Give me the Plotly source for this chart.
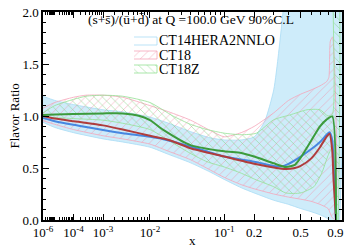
import plotly.graph_objects as go

# ---------------- data ----------------
# CT14HERA2NNLO
ct14_x = [1e-6, 1e-5, 1e-4, 2.4e-4, 1e-3, 3e-3, 1e-2, 1.65e-2, 4e-2, 0.1, 0.2, 0.3, 0.35, 0.4, 0.5, 0.6, 0.7, 0.78, 0.82, 0.856, 0.88, 0.91]
ct14_c = [0.98, 0.95, 0.915, 0.90, 0.865, 0.835, 0.80, 0.777, 0.707, 0.61, 0.56, 0.52, 0.515, 0.54, 0.61, 0.68, 0.75, 0.82, 0.845, 0.77, 0.45, 0.0]
ct14_up_x = [1e-6, 1e-5, 1e-4, 1e-3, 3e-3, 1e-2, 2e-2, 4e-2, 7e-2, 0.1, 0.15, 0.2, 0.25, 0.3, 0.33, 0.36, 0.4, 0.6, 0.92]
ct14_up = [1.19, 1.15, 1.11, 1.06, 1.04, 0.99, 0.93, 0.85, 0.79, 0.77, 0.77, 0.80, 0.95, 1.25, 1.6, 2.0, 2.5, 3.0, 3.0]
ct14_lo_x = [1e-6, 1e-5, 1e-4, 1e-3, 3e-3, 1e-2, 2e-2, 4e-2, 7e-2, 0.1, 0.15, 0.2, 0.3, 0.4, 0.5, 0.6, 0.7, 0.8, 0.85, 0.92]
ct14_lo = [0.94, 0.89, 0.84, 0.78, 0.75, 0.70, 0.63, 0.55, 0.46, 0.39, 0.31, 0.26, 0.19, 0.15, 0.11, 0.08, 0.05, 0.01, -0.1, -0.5]

# CT18
ct18_x = [1e-6, 1e-5, 1e-4, 2.4e-4, 1e-3, 3e-3, 1e-2, 2e-2, 4e-2, 0.1, 0.2, 0.3, 0.38, 0.45, 0.5, 0.6, 0.7, 0.78, 0.82, 0.856, 0.875, 0.91]
ct18_c = [1.0, 0.975, 0.95, 0.938, 0.91, 0.87, 0.81, 0.77, 0.69, 0.61, 0.54, 0.505, 0.49, 0.50, 0.52, 0.59, 0.70, 0.80, 0.83, 0.67, 0.38, 0.0]
ct18_up_x = [1e-6, 1e-5, 1e-4, 3e-4, 1e-3, 3e-3, 1e-2, 2e-2, 4e-2, 7e-2, 0.1, 0.15, 0.2, 0.3, 0.4, 0.5, 0.6, 0.7, 0.78, 0.81, 0.83, 0.86]
ct18_up = [1.075, 1.13, 1.18, 1.20, 1.20, 1.18, 1.10, 1.04, 0.96, 0.86, 0.80, 0.84, 0.90, 1.03, 1.15, 1.21, 1.25, 1.29, 1.33, 1.37, 1.72, 1.76]
ct18_lo_x = [1e-6, 1e-5, 1e-4, 1e-3, 3e-3, 1e-2, 2e-2, 4e-2, 7e-2, 0.1, 0.15, 0.2, 0.3, 0.4, 0.5, 0.6, 0.7, 0.8, 0.85, 0.9]
ct18_lo = [0.955, 0.92, 0.87, 0.81, 0.78, 0.73, 0.66, 0.58, 0.48, 0.41, 0.34, 0.30, 0.25, 0.22, 0.20, 0.18, 0.15, 0.11, 0.03, 0.0]

# CT18Z
ct18z_x = [1e-6, 1e-5, 1e-4, 1e-3, 3e-3, 6.6e-3, 1e-2, 1.65e-2, 4e-2, 0.1, 0.15, 0.2, 0.3, 0.38, 0.45, 0.5, 0.6, 0.7, 0.78, 0.856, 0.91]
ct18z_c = [1.01, 1.015, 1.02, 1.025, 1.025, 1.0, 0.96, 0.867, 0.72, 0.66, 0.645, 0.61, 0.545, 0.51, 0.53, 0.60, 0.76, 0.90, 0.965, 0.996, 0.0]
ct18z_up_x = [1e-6, 1e-5, 1e-4, 3e-4, 1e-3, 3e-3, 1e-2, 2.3e-2, 4e-2, 6.4e-2, 0.1, 0.15, 0.21, 0.3, 0.41, 0.56, 0.7, 0.8, 0.86, 0.885, 0.93]
ct18z_up = [1.03, 1.10, 1.16, 1.19, 1.20, 1.19, 1.13, 1.0, 0.92, 0.87, 0.835, 0.82, 0.835, 0.964, 1.01, 1.06, 1.06, 1.0, 1.02, 2.5, 2.5]
ct18z_lo_x = [1e-6, 1e-5, 1e-4, 1e-3, 3e-3, 1e-2, 2.3e-2, 4e-2, 6.4e-2, 0.1, 0.15, 0.21, 0.3, 0.38, 0.5, 0.63, 0.72, 0.8, 0.86, 0.9, 0.925, 0.93]
ct18z_lo = [0.99, 0.985, 0.975, 0.96, 0.93, 0.87, 0.74, 0.64, 0.56, 0.51, 0.45, 0.385, 0.32, 0.26, 0.26, 0.32, 0.45, 0.62, 0.70, 0.4, 0.0, -0.5]

series_names = ["CT14HERA2NNLO", "CT18", "CT18Z"]
title_text = "(s+s̄)/(ū+d̄) at Q =100.0 GeV 90%C.L"
x_title = "x"
y_title = "Flavor Ratio"

xtick_vals = [1e-6, 1e-4, 1e-3, 1e-2, 1e-1, 0.2, 0.5, 0.9]
xtick_text = ["10<sup>-6</sup>", "10<sup>-4</sup>", "10<sup>-3</sup>", "10<sup>-2</sup>",
              "10<sup>-1</sup>", "0.2", "0.5", "0.9"]
xminor_vals = [m * 10.0 ** k for k in range(-6, -1) for m in range(2, 10)] + [1e-5, 0.3, 0.4, 0.6, 0.7, 0.8]

POW = 0.2  # axis scale is x^0.2


def tr(v):
    return [float(a) ** POW for a in v]


SERIF = "Liberation Serif"

EDGE = ["rgb(170,220,245)", "rgb(245,165,185)", "rgb(150,225,150)"]
FILL = ["rgb(206,236,250)", "rgb(240,140,165)", "rgb(120,210,120)"]
PATTERN = [None, "/", "\\"]
LINEC = ["rgb(70,135,225)", "rgb(175,60,60)", "rgb(60,155,60)"]

fig = go.Figure()


def band(i, ux, uy, lx, ly, xaxis="x", yaxis="y", smooth=True):
    xs = (tr(ux) + tr(lx[::-1])) if smooth else list(ux) + list(lx[::-1])
    ys = list(uy) + list(ly[::-1])
    kw = dict(x=xs, y=ys, mode="lines", fill="toself", showlegend=False,
              line=dict(color=EDGE[i], width=0.8, shape="spline" if smooth else "linear", smoothing=0.6),
              hoverinfo="skip", xaxis=xaxis, yaxis=yaxis)
    if PATTERN[i] is None:
        kw["fillcolor"] = FILL[i] if smooth else "white"
    else:
        kw["fillcolor"] = "rgba(0,0,0,0)"
        kw["fillpattern"] = dict(shape=PATTERN[i], fgcolor=FILL[i], bgcolor="rgba(0,0,0,0)",
                                 size=6, solidity=0.15)
    fig.add_trace(go.Scatter(**kw))


band(0, ct14_up_x, ct14_up, ct14_lo_x, ct14_lo)
band(1, ct18_up_x, ct18_up, ct18_lo_x, ct18_lo)
band(2, ct18z_up_x, ct18z_up, ct18z_lo_x, ct18z_lo)

for i, (xs, ys) in enumerate([(ct14_x, ct14_c), (ct18_x, ct18_c), (ct18z_x, ct18z_c)]):
    fig.add_trace(go.Scatter(x=tr(xs), y=ys, mode="lines", showlegend=False,
                             line=dict(color=LINEC[i], width=2, shape="spline", smoothing=0.6),
                             hoverinfo="skip"))

# ---- layout geometry (window pixels); the page body adds an 8 px offset ----
OFF = 8
W, H = 357, 250
PL, PR, PT, PB = 43, 342, 12, 220


def fx(px):
    return (px - PL) / (PR - PL)


def fy(py):
    return (PB - py) / (PB - PT)


row_y = [41, 55, 69]
for i, name in enumerate(series_names):
    y0, y1 = fy(row_y[i] + 4), fy(row_y[i] - 4)
    x0, x1 = fx(134), fx(157)
    band(i, [x0, x1], [y1, y1], [x0, x1], [y0, y0], xaxis="x2", yaxis="y2", smooth=False)
    fig.add_annotation(text=name, xref="paper", yref="paper", x=fx(158), y=fy(row_y[i]),
                       xanchor="left", yanchor="middle", showarrow=False, borderpad=0,
                       font=dict(family=SERIF, size=14, color="black"))

fig.add_annotation(text=title_text, xref="paper", yref="paper",
                   x=fx(190.5), y=fy(20), xanchor="center", yanchor="middle", showarrow=False,
                   borderpad=0, font=dict(family=SERIF, size=13.5, color="black"))
fig.add_annotation(text=x_title, xref="paper", yref="paper", x=fx(192), y=fy(240),
                   xanchor="center", yanchor="middle", showarrow=False, borderpad=0,
                   font=dict(family=SERIF, size=13, color="black"))
fig.add_annotation(text=y_title, xref="paper", yref="paper", x=fx(13.5), y=fy(116),
                   xanchor="center", yanchor="middle", textangle=-90, showarrow=False, borderpad=0,
                   font=dict(family=SERIF, size=13, color="black"))

fig.update_layout(
    width=W, height=H,
    margin=dict(l=PL - OFF, r=W - PR + OFF, t=PT - OFF, b=H - PB + OFF, autoexpand=False),
    paper_bgcolor="white", plot_bgcolor="white",
    font=dict(family=SERIF, size=13, color="black"),
    showlegend=False,
    xaxis2=dict(overlaying="x", range=[0, 1], visible=False, fixedrange=True, automargin=False),
    yaxis2=dict(overlaying="y", range=[0, 1], visible=False, fixedrange=True, automargin=False),
)
fig.layout.xaxis.update(range=[(1e-6) ** POW, 1.0], tickmode="array", tickvals=tr(xtick_vals), ticktext=xtick_text,
                        ticks="inside", ticklen=6, tickwidth=1, tickcolor="black", automargin=False,
                        showline=True, linecolor="black", linewidth=1.5, mirror="ticks",
                        showgrid=False, zeroline=False, ticklabeloverflow="allow",
                        minor=dict(tickmode="array", tickvals=tr(xminor_vals), ticks="inside", ticklen=3,
                                   tickwidth=1, tickcolor="black", showgrid=False),
                        tickfont=dict(family=SERIF, size=13))
fig.layout.yaxis.update(range=[0, 2], dtick=0.5, tickformat=".1f", automargin=False,
                        ticks="inside", ticklen=6, tickwidth=1, tickcolor="black",
                        showline=True, linecolor="black", linewidth=1.5, mirror="ticks",
                        showgrid=False, zeroline=False, ticklabeloverflow="allow",
                        minor=dict(dtick=0.1, ticks="inside", ticklen=3, tickwidth=1,
                                   tickcolor="black", showgrid=False),
                        tickfont=dict(family=SERIF, size=13))

fig.write_html("out.html")
